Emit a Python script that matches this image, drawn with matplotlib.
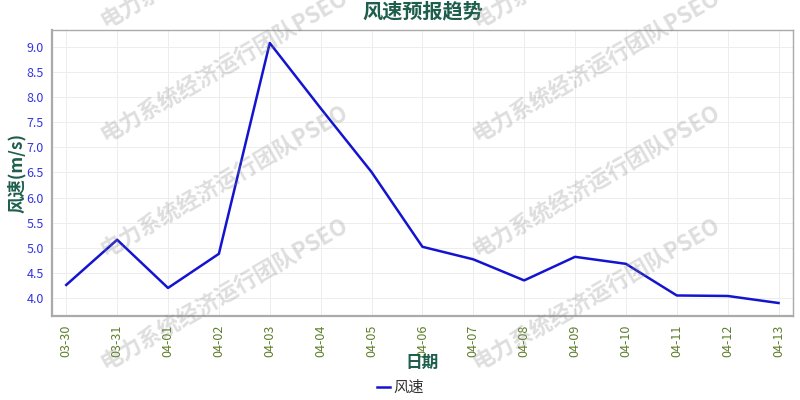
import matplotlib
matplotlib.use("Agg")
import matplotlib.pyplot as plt

plt.rcParams['font.family'] = ['Noto Sans CJK SC', 'DejaVu Sans']
plt.rcParams['axes.unicode_minus'] = False

# data
dates = ['03-30', '03-31', '04-01', '04-02', '04-03', '04-04', '04-05', '04-06',
         '04-07', '04-08', '04-09', '04-10', '04-11', '04-12', '04-13']
wind_speed = [4.26, 5.16, 4.20, 4.88, 9.08, 7.78, 6.51, 5.02,
              4.77, 4.35, 4.82, 4.68, 4.05, 4.04, 3.90]

watermark = '电力系统经济运行团队PSEO'
title_color = '#1d5e4c'

fig = plt.figure(figsize=(8, 4), dpi=100)
ax = fig.add_axes([0.065, 0.21, 0.926, 0.715])

x = range(len(dates))
ax.plot(x, wind_speed, color='#1414d0', linewidth=1.8, label='风速')
ax.margins(x=0.02)

ax.set_xticks(list(x))
ax.set_xticklabels(dates, rotation=90, color='#5d7f2a', fontsize=9)
ax.set_yticks([4.0, 4.5, 5.0, 5.5, 6.0, 6.5, 7.0, 7.5, 8.0, 8.5, 9.0])
ax.set_yticklabels(['%.1f' % v for v in ax.get_yticks()], color='#3535e0', fontsize=9)
ax.tick_params(axis='both', length=0, pad=6)

ax.grid(True, color='#ededed', linewidth=0.7)
for s in ax.spines.values():
    s.set_color('#aaaaaa')
    s.set_linewidth(1.0)
ax.spines['left'].set_linewidth(1.6)
ax.spines['bottom'].set_linewidth(1.6)

ax.set_title('风速预报趋势', fontsize=14.5, fontweight='bold', color=title_color, pad=9)
ax.set_ylabel('风速(m/s)', fontsize=12.5, fontweight='bold', color=title_color, labelpad=0)
ax.set_xlabel('日期', fontsize=12, fontweight='bold', color=title_color, labelpad=-2)

ax.legend(loc='center', bbox_to_anchor=(0.47, -0.25), frameon=False,
          handlelength=0.9, handletextpad=0.2, fontsize=11, labelcolor='#333333')

# tiled watermark
for cx in [224, 596]:
    for cy in [-48, 66, 181, 294]:
        fig.text(cx / 800, 1 - cy / 400, watermark, fontsize=16, fontweight='bold',
                 color='#888888', alpha=0.28, rotation=30, ha='center', va='center',
                 rotation_mode='anchor')

fig.savefig('out.png', dpi=100)
